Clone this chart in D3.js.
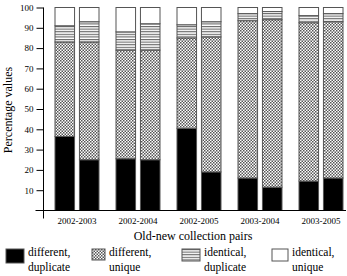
<!DOCTYPE html>
<html>
<head>
<meta charset="utf-8">
<script src="https://cdn.jsdelivr.net/npm/d3@7"></script>
<style>
  body { margin: 0; background: #fff; }
  svg text { font-family: "Liberation Serif", "Times New Roman", serif; fill: #000; }
</style>
</head>
<body>
<div id="chart"></div>
<script>
// collection pairs, two bars each
const pairs = ["2002-2003", "2002-2004", "2002-2005", "2003-2004", "2003-2005"];
const subBars = ["a", "b"];
const seriesNames = ["different, duplicate", "different, unique", "identical, duplicate", "identical, unique"];

// percentage of each segment, bar order: pair1a, pair1b, pair2a, ...
const diffDup  = [36.5, 25, 25.5, 25, 40.5, 19, 16, 11.5, 14.5, 16];
const diffUniq = [46.5, 58, 53.5, 54, 44.5, 66.5, 77.5, 82.5, 78, 77];
const identDup = [8, 10, 9, 13, 6.5, 7.5, 3.5, 4, 3.5, 4];
const identUniq = [9, 7, 12, 8, 8.5, 7, 3, 2, 4, 3];
const yTicks = [10, 20, 30, 40, 50, 60, 70, 80, 90, 100];

const width = 347, height = 276;
const axisX = 43.5, axisY = 210.5;

const svg = d3.select("#chart").append("svg")
    .attr("width", width)
    .attr("height", height);

// patterns
const defs = svg.append("defs");
const cross = defs.append("pattern")
    .attr("id", "cross")
    .attr("patternUnits", "userSpaceOnUse")
    .attr("width", 3).attr("height", 3);
cross.append("rect").attr("width", 3).attr("height", 3).attr("fill", "#fff");
cross.append("rect").attr("width", 1.5).attr("height", 1.5).attr("fill", "#555");
cross.append("rect").attr("x", 1.5).attr("y", 1.5).attr("width", 1.5).attr("height", 1.5).attr("fill", "#555");

const stripe = defs.append("pattern")
    .attr("id", "stripe")
    .attr("patternUnits", "userSpaceOnUse")
    .attr("width", 4).attr("height", 2.6);
stripe.append("rect").attr("width", 4).attr("height", 2.6).attr("fill", "#fff");
stripe.append("rect").attr("width", 4).attr("height", 1.1).attr("fill", "#666");

const fills = ["#000", "url(#cross)", "url(#stripe)", "#fff"];

// scales
const x0 = d3.scaleBand().domain(pairs).range([46.5, 351.5]);
const x1 = d3.scaleBand().domain(subBars).range([8.5, 52.5]).paddingInner(0.2);
const y = d3.scaleLinear().domain([0, 100]).range([axisY, 7.5]);

// stacked data
const rows = [];
pairs.forEach((p, i) => subBars.forEach((s, j) => {
  const k = i * 2 + j;
  rows.push({ pair: p, sub: s, v0: diffDup[k], v1: diffUniq[k], v2: identDup[k], v3: identUniq[k] });
}));
const stack = d3.stack().keys(["v0", "v1", "v2", "v3"]);
const layers = stack(rows);

svg.append("g")
  .selectAll("g")
  .data(layers)
  .join("g")
    .attr("fill", (d, i) => fills[i])
  .selectAll("rect")
  .data(d => d)
  .join("rect")
    .attr("x", d => x0(d.data.pair) + x1(d.data.sub))
    .attr("y", d => y(Math.min(d[1], 100)))
    .attr("width", x1.bandwidth())
    .attr("height", d => y(d[0]) - y(Math.min(d[1], 100)))
    .attr("stroke", "#555")
    .attr("stroke-width", 1);

// y axis
const yAxis = svg.append("g")
    .attr("transform", `translate(${axisX},0)`)
    .call(d3.axisLeft(y).tickValues(yTicks).tickSize(7).tickPadding(3));
yAxis.select(".domain").remove();
yAxis.append("line")
    .attr("x1", 0).attr("x2", 0)
    .attr("y1", y(100)).attr("y2", axisY + 8)
    .attr("stroke", "#000");
yAxis.selectAll(".tick line").attr("stroke", "#000");
yAxis.selectAll(".tick text").style("font-size", "9px");

// x axis
const xAxis = svg.append("g")
    .attr("transform", `translate(0,${axisY})`)
    .call(d3.axisBottom(x0).tickSize(0).tickPadding(7));
xAxis.select(".domain").remove();
xAxis.append("line")
    .attr("x1", axisX - 8).attr("x2", 346)
    .attr("y1", 0).attr("y2", 0)
    .attr("stroke", "#000");
xAxis.selectAll(".tick text").style("font-size", "9px");

// axis titles
svg.append("text")
    .attr("transform", "translate(12,110) rotate(-90)")
    .attr("text-anchor", "middle")
    .style("font-size", "12px")
    .text("Percentage values");

svg.append("text")
    .attr("x", 193).attr("y", 240)
    .attr("text-anchor", "middle")
    .style("font-size", "12px")
    .text("Old-new collection pairs");

// legend
const legendX = [6, 92, 182, 272];
const swatchW = [18, 13, 18, 16];
const swatchH = [14, 11, 12, 12];
const legend = svg.append("g")
  .selectAll("g")
  .data(seriesNames)
  .join("g")
    .attr("transform", (d, i) => `translate(${legendX[i]},249)`);
legend.append("rect")
    .attr("width", (d, i) => swatchW[i])
    .attr("height", (d, i) => swatchH[i])
    .attr("fill", (d, i) => fills[i])
    .attr("stroke", "#555");
legend.append("text")
    .attr("y", 7)
    .style("font-size", "11.5px")
    .selectAll("tspan")
    .data((d, i) => d.split(" ").map(w => ({ w, x: swatchW[i] + 4 })))
    .join("tspan")
      .attr("x", d => d.x)
      .attr("dy", (d, i) => i === 0 ? 0 : 15)
      .text(d => d.w);
</script>
</body>
</html>
